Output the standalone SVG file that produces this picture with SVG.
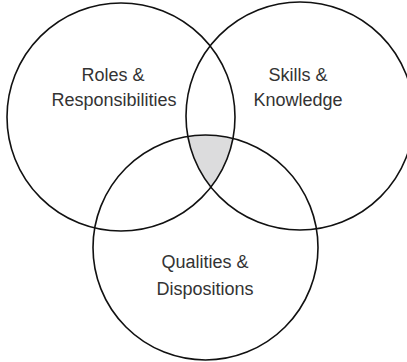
<svg xmlns="http://www.w3.org/2000/svg" width="407" height="362" viewBox="0 0 407 362">
<style>
.ring{fill:none;stroke:#111;stroke-width:1.6}
.lbl{font-family:"Liberation Sans",Arial,sans-serif;font-size:18px;fill:#333;text-anchor:middle}
</style>
<defs>
<clipPath id="c1"><circle cx="121" cy="117" r="114"/></clipPath>
<clipPath id="c2"><circle cx="300" cy="116" r="114"/></clipPath>
</defs>
<rect width="407" height="362" fill="#fff"/>
<g id="overlap" clip-path="url(#c1)"><g clip-path="url(#c2)"><circle cx="205.5" cy="247.5" r="112.5" fill="#dcdcdd"/></g></g>
<g id="roles">
<circle class="ring" cx="121" cy="117" r="114"/>
<text class="lbl" x="113" y="81">Roles &amp;</text>
<text class="lbl" x="114" y="106">Responsibilities</text>
</g>
<g id="skills">
<circle class="ring" cx="300" cy="116" r="114"/>
<text class="lbl" x="298" y="81">Skills &amp;</text>
<text class="lbl" x="298" y="106">Knowledge</text>
</g>
<g id="qualities">
<circle class="ring" cx="205.5" cy="247.5" r="112.5"/>
<text class="lbl" x="205" y="268">Qualities &amp;</text>
<text class="lbl" x="205" y="295">Dispositions</text>
</g>
<g id="connectors"/>
</svg>
